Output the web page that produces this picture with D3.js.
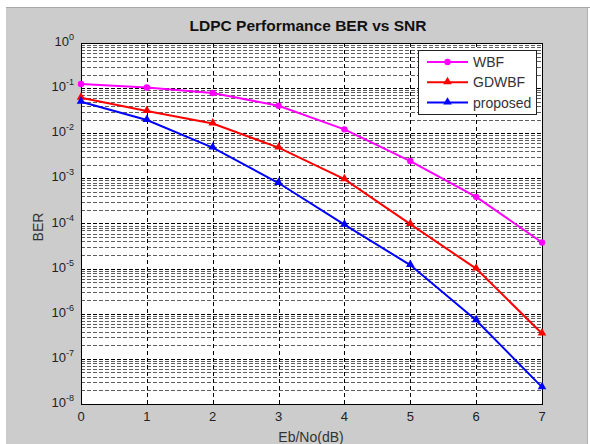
<!DOCTYPE html>
<html>
<head>
<meta charset="utf-8">
<script src="https://cdn.jsdelivr.net/npm/d3@7"></script>
<style>
  body { margin: 0; background: #fff; }
  svg { display: block; font-family: "Liberation Sans", Arial, sans-serif; }
</style>
</head>
<body>
<div id="chart"></div>
<script>
// data
const snr = [0, 1, 2, 3, 4, 5, 6, 7];
const wbf = [0.123, 0.103, 0.078, 0.0407, 0.0122, 0.00242, 3.9e-4, 3.8e-5];
const gdwbf = [0.061, 0.031, 0.0164, 0.0048, 9.6e-4, 9.7e-5, 1.0e-5, 3.66e-7];
const proposed = [0.05, 0.0196, 0.0048, 7.9e-4, 9.4e-5, 1.2e-5, 7.2e-7, 2.36e-8];
const seriesNames = ["WBF", "GDWBF", "proposed"];
const seriesColors = ["#ff00ff", "#ff0000", "#0000ff"];
const seriesMarkers = ["circle", "triangle", "triangle"];
const decades = [1e-8, 1e-7, 1e-6, 1e-5, 1e-4, 1e-3, 1e-2, 1e-1, 1];

const width = 590, height = 444;
const pLeft = 81, pRight = 542, pTop = 43, pBottom = 404;

const svg = d3.select("#chart").append("svg")
  .attr("width", width)
  .attr("height", height);

// figure background
svg.append("rect").attr("x", 6).attr("y", 7).attr("width", 581).attr("height", 437)
  .attr("fill", "#cccccc");
svg.append("line").attr("x1", 6).attr("x2", 590).attr("y1", 7.5).attr("y2", 7.5)
  .attr("stroke", "#a8a8a8");
svg.append("line").attr("x1", 587.5).attr("x2", 587.5).attr("y1", 8).attr("y2", 444)
  .attr("stroke", "#b0b0b0");

const x = d3.scaleLinear().domain([0, 7]).range([pLeft, pRight]);
const y = d3.scaleLog().domain([1e-8, 1]).range([pBottom, pTop]);

// plot area
svg.append("rect").attr("x", pLeft).attr("y", pTop)
  .attr("width", pRight - pLeft).attr("height", pBottom - pTop)
  .attr("fill", "#fff");

// minor horizontal grid
const minor = y.ticks().filter(v => !decades.some(d => Math.abs(d - v) / d < 1e-6));
svg.append("g").selectAll("line").data(minor).enter().append("line")
  .attr("x1", pLeft).attr("x2", pRight)
  .attr("y1", d => Math.round(y(d)) + 0.5).attr("y2", d => Math.round(y(d)) + 0.5)
  .attr("stroke", "#5e5e5e").attr("stroke-dasharray", "4,2");

// major horizontal grid
svg.append("g").selectAll("line").data(decades.slice(1, -1)).enter().append("line")
  .attr("x1", pLeft).attr("x2", pRight)
  .attr("y1", d => Math.round(y(d)) + 0.5).attr("y2", d => Math.round(y(d)) + 0.5)
  .attr("stroke", "#000").attr("stroke-dasharray", "4,2");

// vertical grid
svg.append("g").selectAll("line").data(snr.slice(1, -1)).enter().append("line")
  .attr("x1", d => Math.round(x(d)) + 0.5).attr("x2", d => Math.round(x(d)) + 0.5)
  .attr("y1", pTop).attr("y2", pBottom)
  .attr("stroke", "#000").attr("stroke-dasharray", "4,3");

// box
svg.append("rect").attr("x", pLeft + 0.5).attr("y", pTop + 0.5)
  .attr("width", pRight - pLeft).attr("height", pBottom - pTop)
  .attr("fill", "none").attr("stroke", "#000");

// x tick labels
svg.append("g").selectAll("text").data(snr).enter().append("text")
  .attr("x", d => x(d)).attr("y", 421)
  .attr("text-anchor", "middle").attr("font-size", 13).attr("fill", "#222")
  .text(d => d);

// y tick labels: 10^k
const yl = svg.append("g").selectAll("text").data(decades).enter().append("text")
  .attr("x", 74).attr("y", d => y(d) + 3)
  .attr("text-anchor", "end").attr("font-size", 13).attr("fill", "#222");
yl.append("tspan").text("10");
yl.append("tspan").attr("font-size", 9).attr("dy", -6)
  .text(d => { const e = Math.round(Math.log10(d)); return e === 0 ? "0" : "-" + Math.abs(e); });

// series
const allSeries = [wbf, gdwbf, proposed];
const line = d3.line().x((d, i) => x(snr[i])).y(d => y(d));
const tri = d3.symbol().type(d3.symbolTriangle).size(32);

allSeries.forEach((vals, si) => {
  const g = svg.append("g");
  g.append("path").datum(vals).attr("d", line)
    .attr("fill", "none").attr("stroke", seriesColors[si]).attr("stroke-width", 2);
  if (seriesMarkers[si] === "circle") {
    g.selectAll("circle").data(vals).enter().append("circle")
      .attr("cx", (d, i) => x(snr[i])).attr("cy", d => y(d)).attr("r", 3.2)
      .attr("fill", seriesColors[si]);
  } else {
    g.selectAll("path.m").data(vals).enter().append("path").attr("class", "m")
      .attr("d", tri)
      .attr("transform", (d, i) => `translate(${x(snr[i])},${y(d) - 0.5})`)
      .attr("fill", seriesColors[si]);
  }
});

// legend
const lg = svg.append("g");
lg.append("rect").attr("x", 418.5).attr("y", 50.5).attr("width", 118).attr("height", 64)
  .attr("fill", "#fff").attr("stroke", "#222");
seriesNames.forEach((name, i) => {
  const ly = 62 + i * 20.3;
  lg.append("line").attr("x1", 427).attr("x2", 468).attr("y1", ly).attr("y2", ly)
    .attr("stroke", seriesColors[i]).attr("stroke-width", 2);
  if (seriesMarkers[i] === "circle") {
    lg.append("circle").attr("cx", 447.5).attr("cy", ly).attr("r", 3.2).attr("fill", seriesColors[i]);
  } else {
    lg.append("path").attr("d", tri).attr("transform", `translate(447.5,${ly - 0.5})`)
      .attr("fill", seriesColors[i]);
  }
  lg.append("text").attr("x", 473).attr("y", ly + 5).attr("font-size", 14).attr("fill", "#333")
    .text(name);
});

// title and axis labels
svg.append("text").attr("x", 308).attr("y", 31).attr("text-anchor", "middle")
  .attr("font-size", 15.5).attr("font-weight", "bold").attr("fill", "#111")
  .text("LDPC Performance BER vs SNR");
svg.append("text").attr("x", 311).attr("y", 442).attr("text-anchor", "middle")
  .attr("font-size", 14).attr("fill", "#333").text("Eb/No(dB)");
svg.append("text").attr("transform", "translate(43,227) rotate(-90)")
  .attr("text-anchor", "middle").attr("font-size", 14).attr("fill", "#333").text("BER");
</script>
</body>
</html>
